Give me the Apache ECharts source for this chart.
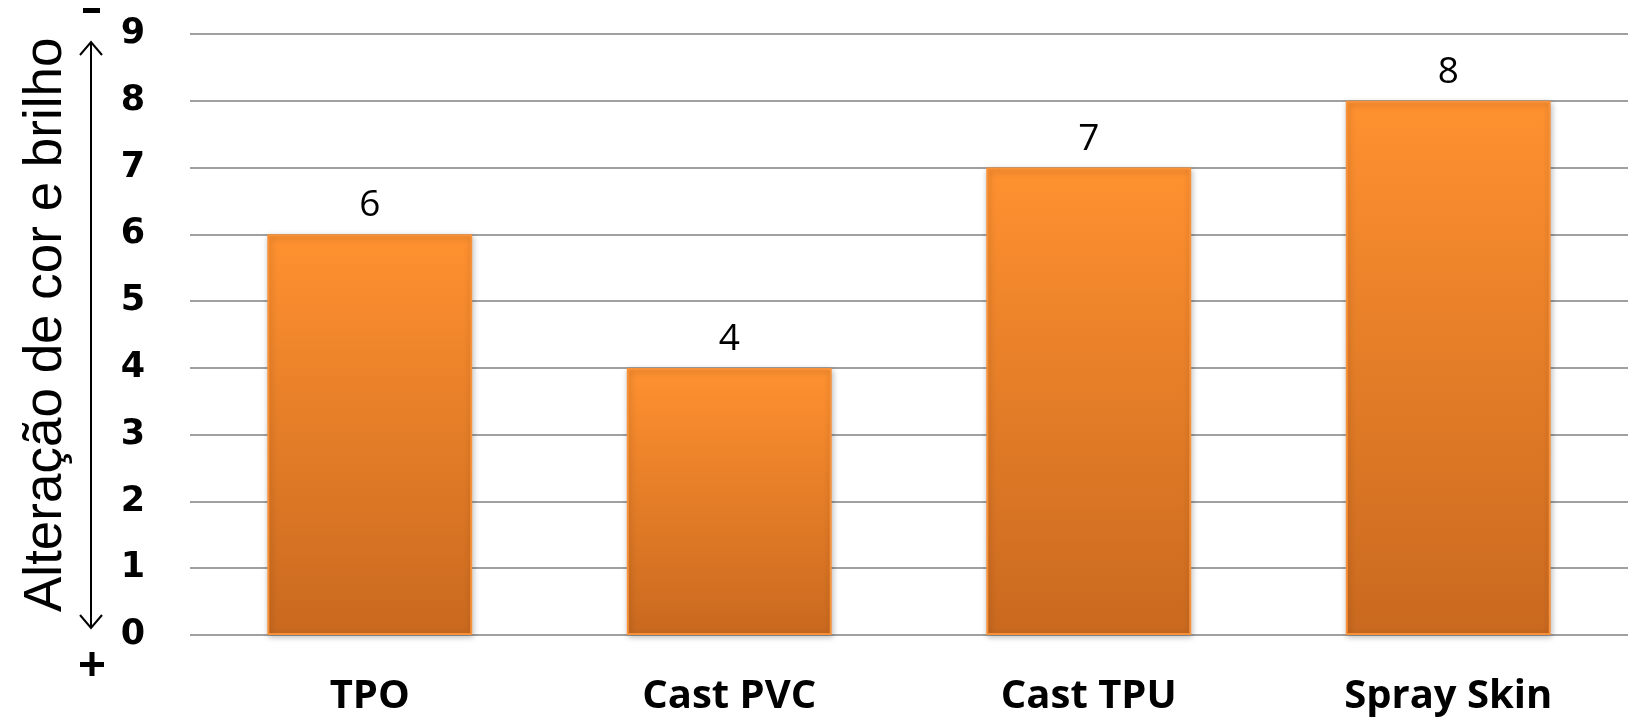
<!DOCTYPE html>
<html>
<head>
<meta charset="utf-8">
<script src="https://cdn.jsdelivr.net/npm/echarts@6/dist/echarts.min.js"></script>
<style>
  html, body { margin: 0; padding: 0; background: #fff; }
  #chart { width: 1628px; height: 720px; }
</style>
</head>
<body>
<div id="chart"></div>
<script>
// categorias e valores
var categories = ["TPO", "Cast PVC", "Cast TPU", "Spray Skin"];
var values = [6, 4, 7, 8];
var yMin = 0, yMax = 9, yStep = 1;

var myChart = echarts.init(document.getElementById("chart"));
myChart.setOption({
  animation: false,
  grid: {
    left: 190,
    right: 0,
    top: 34,
    bottom: 85
  },
  xAxis: {
    type: "category",
    data: categories,
    axisLine: { show: false },
    axisTick: { show: false },
    axisLabel: {
      margin: 42,
      fontFamily: "Open Sans",
      fontWeight: "bold",
      fontSize: 40,
      color: "#000"
    }
  },
  yAxis: {
    type: "value",
    min: yMin,
    max: yMax,
    interval: yStep,
    axisLine: { show: false },
    axisTick: { show: false },
    splitLine: { lineStyle: { color: "#a0a0a0", width: 2 } },
    axisLabel: {
      margin: 45,
      fontFamily: "DejaVu Sans",
      fontWeight: "bold",
      fontSize: 35,
      color: "#000"
    }
  },
  graphic: [
    {
      // titulo do eixo y (rodado)
      type: "text",
      rotation: Math.PI / 2,
      style: {
        text: "Alteração de cor e brilho",
        font: "53px 'Liberation Sans'",
        fill: "#000"
      },
      x: 20, y: 612
    },
    {
      // seta dupla com sinais - e +
      type: "group",
      children: [
        { type: "line", shape: { x1: 91, y1: 42, x2: 91, y2: 628 }, style: { stroke: "#000", lineWidth: 2 } },
        { type: "polyline", shape: { points: [[80, 55], [91, 42], [102, 55]] }, style: { stroke: "#000", lineWidth: 2, fill: null } },
        { type: "polyline", shape: { points: [[80, 615], [91, 628], [102, 615]] }, style: { stroke: "#000", lineWidth: 2, fill: null } },
        { type: "rect", shape: { x: 83, y: 8, width: 17, height: 5 }, style: { fill: "#000" } },
        { type: "rect", shape: { x: 80, y: 662, width: 24, height: 5 }, style: { fill: "#000" } },
        { type: "rect", shape: { x: 89.5, y: 652, width: 5, height: 24 }, style: { fill: "#000" } }
      ]
    }
  ],
  series: [
    {
      type: "bar",
      data: values,
      barWidth: "57%",
      itemStyle: {
        color: new echarts.graphic.LinearGradient(0, 0, 0, 1, [
          { offset: 0, color: "#ff9130" },
          { offset: 1, color: "#c9691f" }
        ]),
        borderColor: "#f7923a",
        borderWidth: 2,
        shadowColor: "rgba(0,0,0,0.25)",
        shadowBlur: 6,
        shadowOffsetX: 1,
        shadowOffsetY: 2
      },
      label: {
        show: true,
        position: "top",
        distance: 10,
        fontFamily: "Open Sans",
        fontSize: 37,
        color: "#000"
      }
    }
  ]
});
</script>
</body>
</html>
